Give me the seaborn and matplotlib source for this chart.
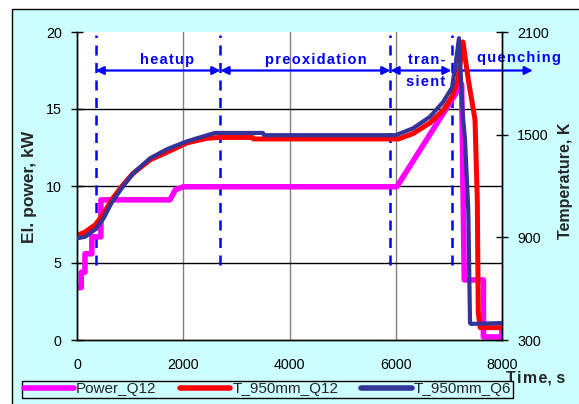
import numpy as np
import pandas as pd
import matplotlib
matplotlib.use("Agg")
import matplotlib.pyplot as plt
from matplotlib.patches import Rectangle
import seaborn as sns

# Power_Q12, kW
power_t = [20, 80, 80, 150, 150, 280, 280, 450, 450, 1750, 1850, 2000, 6020,
           7240, 7290, 7650, 7650, 7990, 8000]
power_kw = [3.4, 3.4, 4.4, 4.4, 5.6, 5.6, 6.7, 6.7, 9.1, 9.1, 9.75, 9.95, 9.95,
            16.6, 3.9, 3.9, 0.2, 0.2, 0.65]

# T_950mm_Q12, K
red_t = [0, 150, 350, 500, 650, 850, 1050, 1375, 1700, 2070, 2450, 2700, 3300,
         3320, 6050, 6325, 6645, 6890, 7060, 7170, 7265, 7366, 7492, 7535, 7553,
         7590, 8000]
red_k = [912, 930, 975, 1038, 1119, 1200, 1272, 1353, 1398, 1452, 1479, 1484, 1484,
         1475, 1475, 1506, 1569, 1641, 1722, 1821, 2042, 1821, 1587, 1119, 462,
         372, 372]

# T_950mm_Q6, K
blue_t = [0, 150, 350, 500, 650, 850, 1050, 1375, 1700, 2070, 2450, 2600, 3500,
          3520, 6000, 6325, 6645, 6890, 7060, 7130, 7190, 7230, 7260, 7304, 7366,
          7398, 7420, 8000]
blue_k = [894, 903, 948, 1011, 1101, 1191, 1272, 1362, 1416, 1461, 1497, 1510, 1510,
          1497, 1497, 1537, 1605, 1690, 1776, 1920, 2064, 1812, 1623, 1470, 1056,
          399, 394, 399]

# phase boundaries and labels
phase_t = [350, 2700, 5900, 7050]
phase_arrows = [(350, 2700), (2700, 5900), (5900, 7050), (7050, 8580)]
phase_labels = ["heatup", "preoxidation", "tran-", "sient", "quenching"]
label_pos = [(1690, 18.2), (4500, 18.2), (6590, 18.2), (6560, 16.75), (8320, 18.3)]

sns.set_style("white")
plt.rcParams['font.family'] = ['Liberation Sans', 'DejaVu Sans']

fig = plt.figure(figsize=(5.79, 4.04), dpi=100)
fig.patch.set_facecolor("white")
fig.add_artist(Rectangle((12 / 579, -0.05), 1.0, 1 - 9 / 404 + 0.05,
                         transform=fig.transFigure, facecolor="#CCFFFF",
                         edgecolor="black", linewidth=1, zorder=-10))
ax = fig.add_axes([77 / 579, 1 - 340 / 404, 425 / 579, 308 / 404])
ax.set_facecolor("white")
ax2 = ax.twinx()

df_p = pd.DataFrame({"t": power_t, "v": power_kw})
df_r = pd.DataFrame({"t": red_t, "v": red_k})
df_b = pd.DataFrame({"t": blue_t, "v": blue_k})

sns.lineplot(data=df_p, x="t", y="v", ax=ax, color="#FF00FF", lw=4,
             estimator=None, sort=False, label="Power_Q12", legend=False)
sns.lineplot(data=df_b, x="t", y="v", ax=ax2, color="#333399", lw=3,
             estimator=None, sort=False, label="T_950mm_Q6", legend=False, zorder=3)
sns.lineplot(data=df_r, x="t", y="v", ax=ax2, color="#FF0000", lw=3.6,
             estimator=None, sort=False, label="T_950mm_Q12", legend=False, zorder=2)

ax.set_xlim(0, 8000)
ax.set_ylim(0, 20)
ax2.set_ylim(300, 2100)
ax.set_xticks([0, 2000, 4000, 6000, 8000])
ax.set_yticks([0, 5, 10, 15, 20])
ax2.set_yticks([300, 900, 1500, 2100])

for x in [2000, 4000, 6000]:
    ax.axvline(x, color="#808080", lw=1, zorder=0)
for y in [5, 10, 15]:
    ax.axhline(y, color="black", lw=1, zorder=0)

for a in (ax, ax2):
    a.spines["top"].set_visible(False)
    for s in a.spines.values():
        s.set_color("black")
        s.set_linewidth(1)
    a.tick_params(direction="inout", length=8, width=1, labelsize=10.3,
                  colors="black", pad=7)
ax.tick_params(axis="x", pad=9)
ax.set_xlabel("")
ax.set_ylabel("El. power, kW", fontsize=12.5, fontweight="bold")
ax.yaxis.set_label_coords(-0.094, 0.497)
ax2.set_ylabel("Temperature, K", fontsize=11.5, fontweight="bold")
ax2.yaxis.set_label_coords(1.132, 0.516)
fig.text(536 / 579, 1 - 378 / 404, "T\u200ai\u200am\u200ae, s", fontsize=11.5,
         fontweight="bold", ha="center", va="center")

# phase markers
for x in phase_t:
    ax.plot([x, x], [4.9, 19.8], color="#0000FF", lw=1.8, ls=(0, (4, 3)), zorder=1)
for x0, x1 in phase_arrows:
    ax.annotate("", xy=(x1, 17.5), xytext=(x0, 17.5), annotation_clip=False,
                arrowprops=dict(arrowstyle="<|-|>", color="#0000FF", lw=1.6,
                                mutation_scale=12, shrinkA=0, shrinkB=0))
for txt, (x, y) in zip(phase_labels, label_pos):
    ax.text(x, y, "\u200a".join(txt), color="#0000FF", fontsize=10.5,
            fontweight="bold", ha="center", va="center", clip_on=False)

handles = ax.get_lines()[:1] + [ax2.get_lines()[1], ax2.get_lines()[0]]
leg = fig.legend(handles, ["Power_Q12", "T_950mm_Q12", "T_950mm_Q6"], ncol=3,
                 loc="lower left", bbox_to_anchor=(22 / 579, 1 - 398 / 404),
                 fontsize=11, frameon=True, fancybox=False, framealpha=1,
                 facecolor="#CCFFFF", edgecolor="black", handlelength=3.3,
                 handletextpad=0.15, columnspacing=1.5, borderpad=0.1,
                 borderaxespad=0)
leg.get_frame().set_linewidth(1)
for h in leg.get_lines():
    h.set_linewidth(4)

fig.savefig("out.png", dpi=100)
